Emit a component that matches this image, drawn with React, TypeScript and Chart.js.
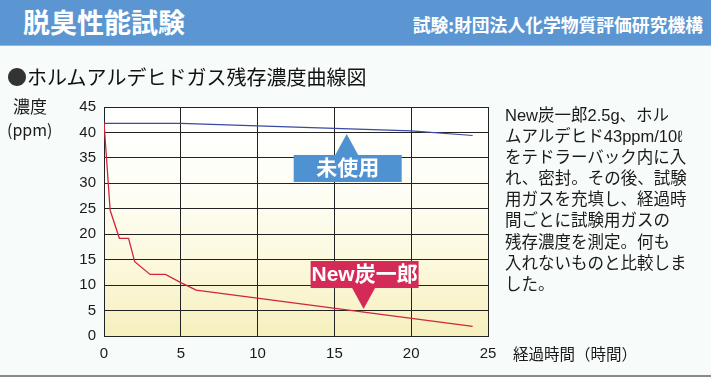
import React, { useEffect, useRef } from "react";
import { Chart, registerables } from "chart.js";

Chart.register(...registerables);

// ---- data ----
const tanHours = [0, 0.4, 1, 1.6, 2, 3, 4, 5, 6, 24];
const tanValues = [42, 24.7, 19.2, 19.2, 14.6, 12.1, 12.1, 10.5, 9, 1.9];
const unusedHours = [0, 5, 10, 15, 20, 24];
const unusedValues = [41.8, 41.8, 41.3, 40.8, 40.3, 39.4];
const xTicks = [0, 5, 10, 15, 20, 25];
const yTicks = [0, 5, 10, 15, 20, 25, 30, 35, 40, 45];

const seriesNames = ["New炭一郎", "未使用"];
const paragraphLines = [
  "New炭一郎2.5g、ホル",
  "ムアルデヒド43ppm/10ℓ",
  "をテドラーバック内に入",
  "れ、密封。その後、試験",
  "用ガスを充填し、経過時",
  "間ごとに試験用ガスの",
  "残存濃度を測定。何も",
  "入れないものと比較しま",
  "した。",
];

const JP = '"Noto Sans CJK JP", "Noto Sans", sans-serif';
const MIX = '"Liberation Sans", "Noto Sans CJK JP", sans-serif';
const NUM = '"Liberation Sans", Arial, sans-serif';

// callout anchors (tip of the arrow, in data units)
const callouts = [
  { text: seriesNames[1], tipX: 15.8, tipY: 39.7, dir: "up", color: "#4f92d2" },
  { text: seriesNames[0], tipX: 16.9, tipY: 5.3, dir: "down", color: "#d42a58" },
];

const bgPlugin = {
  id: "plotBg",
  beforeDraw(chart: any) {
    const { ctx, chartArea: a } = chart;
    const g = ctx.createLinearGradient(0, a.top, 0, a.bottom);
    g.addColorStop(0, "#ffffff");
    g.addColorStop(0.35, "#fefef6");
    g.addColorStop(0.7, "#fbf8dc");
    g.addColorStop(1, "#f6f0bd");
    ctx.save();
    ctx.fillStyle = g;
    ctx.fillRect(a.left, a.top, a.right - a.left, a.bottom - a.top);
    ctx.restore();
  },
};

const calloutPlugin = {
  id: "callouts",
  afterDatasetsDraw(chart: any) {
    const { ctx, scales } = chart;
    const bw = 108;
    const bh = 27;
    const gap = 21;
    const half = 12;
    callouts.forEach((c) => {
      const tx = scales.x.getPixelForValue(c.tipX);
      const ty = scales.y.getPixelForValue(c.tipY);
      ctx.save();
      ctx.fillStyle = c.color;
      let boxTop: number;
      ctx.beginPath();
      if (c.dir === "up") {
        boxTop = ty + gap;
        ctx.moveTo(tx, ty);
        ctx.lineTo(tx - half, boxTop + 1);
        ctx.lineTo(tx + half, boxTop + 1);
      } else {
        boxTop = ty - gap - bh;
        ctx.moveTo(tx, ty);
        ctx.lineTo(tx - half, boxTop + bh - 1);
        ctx.lineTo(tx + half, boxTop + bh - 1);
      }
      ctx.closePath();
      ctx.fill();
      ctx.fillRect(tx - bw / 2 + 1, boxTop, bw, bh);
      ctx.fillStyle = "#ffffff";
      ctx.font = `bold 21px ${MIX}`;
      ctx.textAlign = "center";
      ctx.textBaseline = "middle";
      ctx.fillText(c.text, tx + 1, boxTop + bh / 2 + 1);
      ctx.restore();
    });
  },
};

export default function App() {
  const ref = useRef<HTMLCanvasElement>(null);

  useEffect(() => {
    if (!ref.current) return;
    const chart = new Chart(ref.current, {
      type: "line",
      data: {
        datasets: [
          {
            label: seriesNames[1],
            data: unusedHours.map((h, i) => ({ x: h, y: unusedValues[i] })),
            borderColor: "#3a4a9e",
            borderWidth: 1.2,
            pointRadius: 0,
            tension: 0,
          },
          {
            label: seriesNames[0],
            data: tanHours.map((h, i) => ({ x: h, y: tanValues[i] })),
            borderColor: "#d0263e",
            borderWidth: 1.3,
            pointRadius: 0,
            tension: 0,
          },
        ],
      },
      options: {
        responsive: false,
        animation: false,
        devicePixelRatio: 1,
        layout: { padding: { top: 107, right: 223, left: 0, bottom: 0 } },
        plugins: { legend: { display: false }, tooltip: { enabled: false } },
        scales: {
          x: {
            type: "linear",
            min: 0,
            max: 25,
            afterFit: (s: any) => {
              s.height = 41;
            },
            afterBuildTicks: (s: any) => {
              s.ticks = xTicks.map((v) => ({ value: v }));
            },
            grid: { color: "#222", lineWidth: 1, drawTicks: false },
            border: { color: "#222", width: 1 },
            ticks: {
              padding: 9,
              color: "#1a1a1a",
              font: { family: NUM, size: 15 },
              maxRotation: 0,
            },
          },
          y: {
            type: "linear",
            min: 0,
            max: 45,
            afterFit: (s: any) => {
              s.width = 104;
            },
            afterBuildTicks: (s: any) => {
              s.ticks = yTicks.map((v) => ({ value: v }));
            },
            grid: { color: "#222", lineWidth: 1, drawTicks: false },
            border: { color: "#222", width: 1 },
            ticks: {
              padding: 8,
              color: "#1a1a1a",
              font: { family: NUM, size: 15 },
            },
          },
        },
      },
      plugins: [bgPlugin, calloutPlugin],
    });
    return () => chart.destroy();
  }, []);

  return (
    <div
      style={{
        position: "absolute",
        left: 0,
        top: 0,
        width: 711,
        height: 377,
        background: "#f7fbfa",
        overflow: "hidden",
        fontFamily: JP,
        color: "#1a1a1a",
      }}
    >
      <canvas
        ref={ref}
        width={711}
        height={377}
        style={{ position: "absolute", left: 0, top: 0 }}
      />
      <div
        style={{
          position: "absolute",
          left: 0,
          top: 0,
          width: 711,
          height: 45,
          background: "#5b96d2",
          borderBottom: "1px solid #9fb6c8",
        }}
      />
      <div
        style={{
          position: "absolute",
          left: 23,
          top: 6,
          fontSize: 27,
          lineHeight: "32px",
          fontWeight: 700,
          color: "#fff",
          whiteSpace: "nowrap",
        }}
      >
        脱臭性能試験
      </div>
      <div
        style={{
          position: "absolute",
          right: 8,
          top: 13,
          fontSize: 17.8,
          lineHeight: "22px",
          fontWeight: 700,
          color: "#fff",
          whiteSpace: "nowrap",
        }}
      >
        試験:財団法人化学物質評価研究機構
      </div>
      <div
        style={{
          position: "absolute",
          left: 7,
          top: 65,
          fontSize: 20,
          lineHeight: "24px",
          whiteSpace: "nowrap",
          color: "#111",
        }}
      >
        <span style={{ color: "#333" }}>●</span>ホルムアルデヒドガス残存濃度曲線図
      </div>
      <div
        style={{
          position: "absolute",
          left: 13,
          top: 96,
          fontSize: 17,
          lineHeight: "20px",
          whiteSpace: "nowrap",
        }}
      >
        濃度
      </div>
      <div
        style={{
          position: "absolute",
          left: 7,
          top: 119,
          fontSize: 16,
          lineHeight: "20px",
          whiteSpace: "nowrap",
        }}
      >
        (ppm)
      </div>
      <div
        style={{
          position: "absolute",
          left: 513,
          top: 343,
          fontSize: 15.5,
          lineHeight: "20px",
          whiteSpace: "nowrap",
        }}
      >
        経過時間（時間）
      </div>
      <div
        style={{
          position: "absolute",
          left: 505,
          top: 105,
          fontSize: 16.5,
          lineHeight: "21.1px",
          whiteSpace: "nowrap",
          fontFamily: MIX,
        }}
      >
        {paragraphLines.map((l, i) => (
          <div key={i}>{l}</div>
        ))}
      </div>
      <div
        style={{
          position: "absolute",
          left: 0,
          top: 375,
          width: 711,
          height: 2,
          background: "#8a8a8a",
        }}
      />
    </div>
  );
}
